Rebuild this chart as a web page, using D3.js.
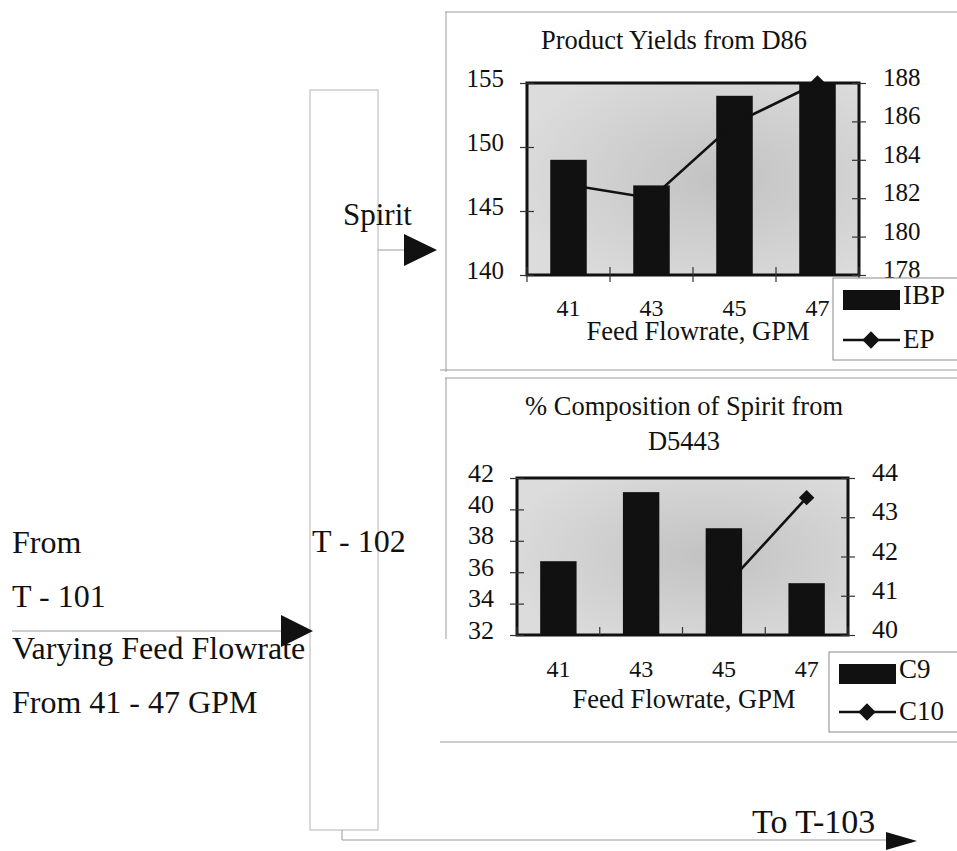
<!DOCTYPE html>
<html>
<head>
<meta charset="utf-8">
<script src="https://cdn.jsdelivr.net/npm/d3@7"></script>
<style>
  body { margin: 0; background: #fff; }
  text { font-family: "Liberation Serif", "Times New Roman", serif; fill: #111; }
</style>
</head>
<body>
<div id="chart"></div>
<script>
// feed flowrate categories (GPM)
var flowrates = ["41", "43", "45", "47"];

// product yields from D86
var ibpValues = [149, 147, 154, 155];
var epValues = [182.7, 182.0, 185.9, 188];

// % composition of spirit from D5443
var c9Values = [36.7, 41.1, 38.8, 35.3];
var c10Values = [null, null, 41.2, 43.5];

// tick labels
var ibpTicks = [140, 145, 150, 155];
var epTicks = [178, 180, 182, 184, 186, 188];
var c9Ticks = [32, 34, 36, 38, 40, 42];
var c10Ticks = [40, 41, 42, 43, 44];

var svg = d3.select("#chart")
  .append("svg")
    .attr("width", 957)
    .attr("height", 851);

// shaded plot background
var grad = svg.append("defs").append("radialGradient")
    .attr("id", "plotShade")
    .attr("cx", "58%").attr("cy", "50%").attr("r", "65%");
grad.append("stop").attr("offset", "0%").attr("stop-color", "#c2c2c2");
grad.append("stop").attr("offset", "100%").attr("stop-color", "#dcdcdc");

var grey = "#9a9a9a";

// ---- process sketch on the left ----
function hline(x1, x2, y) {
  svg.append("line").attr("x1", x1).attr("x2", x2).attr("y1", y).attr("y2", y)
    .attr("stroke", grey).attr("stroke-width", 1);
}
function vline(x, y1, y2) {
  svg.append("line").attr("x1", x).attr("x2", x).attr("y1", y1).attr("y2", y2)
    .attr("stroke", grey).attr("stroke-width", 1);
}
function arrowHead(xTip, y, len, half) {
  svg.append("path")
    .attr("d", "M" + (xTip - len) + "," + (y - half) + "L" + xTip + "," + y + "L" + (xTip - len) + "," + (y + half) + "Z")
    .attr("fill", "#111");
}
function label(txt, x, y, size) {
  svg.append("text").attr("x", x).attr("y", y).style("font-size", (size || 32) + "px").text(txt);
}

// column T-102
svg.append("rect")
  .attr("x", 310).attr("y", 90).attr("width", 68).attr("height", 740)
  .attr("fill", "none").attr("stroke", "#b4b4b4").attr("stroke-width", 1);

// panel frames
hline(445, 957, 12);
vline(446, 12, 372);
hline(440, 957, 370);
hline(445, 957, 378);
vline(446, 378, 640);
hline(440, 957, 742);

// feed in
hline(12, 285, 631);
arrowHead(313, 631, 32, 16);
// spirit out
hline(378, 406, 250);
arrowHead(437, 250, 33, 16);
// bottoms out
vline(342, 830, 840);
hline(342, 890, 840);
arrowHead(917, 841, 31, 9);

label("Spirit", 343, 225, 31);
label("From", 12, 553);
label("T - 101", 12, 607);
label("Varying Feed Flowrate", 12, 659);
label("From 41 - 47 GPM", 12, 713);
label("T - 102", 312, 552);
label("To T-103", 752, 833, 34);

// ---- combo chart: bars on left axis, line on right axis ----
function drawChart(cfg) {
  var g = svg.append("g");

  var x = d3.scaleBand()
    .domain(flowrates)
    .range([cfg.left, cfg.right]);
  var yL = d3.scaleLinear().domain(d3.extent(cfg.leftTicks)).range([cfg.bottom, cfg.top]);
  var yR = d3.scaleLinear().domain(d3.extent(cfg.rightTicks)).range([cfg.bottom, cfg.top]);

  g.append("rect")
    .attr("x", cfg.left).attr("y", cfg.top)
    .attr("width", cfg.right - cfg.left).attr("height", cfg.bottom - cfg.top)
    .attr("fill", "url(#plotShade)");

  // bars
  var bw = x.bandwidth() * 0.44;
  g.selectAll(".bar")
    .data(cfg.bars)
    .enter()
    .append("rect")
      .attr("x", function(d, i) { return x(flowrates[i]) + (x.bandwidth() - bw) / 2; })
      .attr("y", function(d) { return yL(d); })
      .attr("width", bw)
      .attr("height", function(d) { return yL(yL.domain()[0]) - yL(d); })
      .attr("fill", "#111");

  // line series
  var pts = cfg.line.map(function(d, i) { return { cat: flowrates[i], v: d }; })
    .filter(function(d) { return d.v !== null; });
  var line = d3.line()
    .x(function(d) { return x(d.cat) + x.bandwidth() / 2; })
    .y(function(d) { return yR(d.v); });
  g.append("path")
    .datum(pts)
    .attr("d", line)
    .attr("fill", "none")
    .attr("stroke", "#111")
    .attr("stroke-width", 2.6);
  var diamond = d3.symbol().type(d3.symbolSquare).size(120);
  g.selectAll(".mk")
    .data(pts)
    .enter()
    .append("path")
      .attr("d", diamond)
      .attr("transform", function(d) {
        return "translate(" + (x(d.cat) + x.bandwidth() / 2) + "," + yR(d.v) + ")rotate(45)";
      })
      .attr("fill", "#111");

  // frame
  g.append("rect")
    .attr("x", cfg.left).attr("y", cfg.top)
    .attr("width", cfg.right - cfg.left).attr("height", cfg.bottom - cfg.top)
    .attr("fill", "none").attr("stroke", "#111").attr("stroke-width", 3);

  // left axis, ticks crossing the frame
  [7, -7].forEach(function(ts, k) {
    var ax = g.append("g")
      .attr("transform", "translate(" + cfg.left + ",0)")
      .call(d3.axisLeft(yL).tickValues(cfg.leftTicks).tickSize(ts).tickPadding(16).tickFormat(d3.format("d")));
    ax.select(".domain").remove();
    ax.selectAll("line").attr("stroke", "#333").attr("stroke-width", 1.2);
    if (k) ax.selectAll("text").remove();
    else ax.selectAll("text").attr("dy", "0.12em").style("font-size", cfg.tickFont).attr("fill", "#111");
  });
  [7, -7].forEach(function(ts, k) {
    var ax = g.append("g")
      .attr("transform", "translate(" + cfg.right + ",0)")
      .call(d3.axisRight(yR).tickValues(cfg.rightTicks).tickSize(ts).tickPadding(17).tickFormat(d3.format("d")));
    ax.select(".domain").remove();
    ax.selectAll("line").attr("stroke", "#333").attr("stroke-width", 1.2);
    if (k) ax.selectAll("text").remove();
    else ax.selectAll("text").attr("dy", "0.1em").attr("text-anchor", "start").style("font-size", cfg.tickFont).attr("fill", "#111");
  });

  // category separators on the x axis
  var seps = flowrates.map(function(f) { return x(f); }).concat([cfg.right]);
  g.selectAll(".sep")
    .data(seps)
    .enter()
    .append("line")
      .attr("x1", function(d) { return d; }).attr("x2", function(d) { return d; })
      .attr("y1", cfg.bottom - 8).attr("y2", cfg.bottom + cfg.sepDown)
      .attr("stroke", "#333").attr("stroke-width", 1.2);

  if (cfg.cover) {
    svg.append("rect")
      .attr("x", cfg.cover[0]).attr("y", cfg.cover[1])
      .attr("width", cfg.cover[2]).attr("height", cfg.cover[3])
      .attr("fill", "#fff");
  }

  // category labels
  var xa = svg.append("g")
    .attr("transform", "translate(0," + cfg.bottom + ")")
    .call(d3.axisBottom(x).tickSize(0));
  xa.select(".domain").remove();
  xa.selectAll("text")
    .attr("y", cfg.catOffset).attr("dy", 0)
    .style("font-size", "24px").attr("fill", "#111");

  svg.append("text")
    .attr("x", cfg.xTitle[0]).attr("y", cfg.xTitle[1])
    .attr("text-anchor", "middle")
    .style("font-size", "26.5px")
    .text("Feed Flowrate, GPM");

  cfg.title.forEach(function(t) {
    svg.append("text")
      .attr("x", t[1]).attr("y", t[2])
      .attr("text-anchor", "middle")
      .style("font-size", "26.5px")
      .text(t[0]);
  });

  // legend
  var lg = svg.append("g").attr("transform", "translate(" + cfg.legend[0] + "," + cfg.legend[1] + ")");
  lg.append("rect")
    .attr("width", cfg.legend[2]).attr("height", cfg.legend[3])
    .attr("fill", "#fff").attr("stroke", "#8a8a8a").attr("stroke-width", 1);
  lg.append("rect")
    .attr("x", 10).attr("y", 12).attr("width", 57).attr("height", 20)
    .attr("fill", "#111");
  lg.append("text").attr("x", 70).attr("y", 26)
    .style("font-size", "27px").text(cfg.names[0]);
  lg.append("line")
    .attr("x1", 10).attr("x2", 67).attr("y1", cfg.legendLineY).attr("y2", cfg.legendLineY)
    .attr("stroke", "#111").attr("stroke-width", 2.6);
  lg.append("path")
    .attr("d", d3.symbol().type(d3.symbolSquare).size(150))
    .attr("transform", "translate(38," + cfg.legendLineY + ")rotate(45)")
    .attr("fill", "#111");
  lg.append("text").attr("x", 70).attr("y", cfg.legendLineY + 8)
    .style("font-size", "27px").text(cfg.names[1]);
}

drawChart({
  left: 527, right: 859, top: 83, bottom: 275,
  bars: ibpValues, line: epValues,
  leftTicks: ibpTicks, rightTicks: epTicks,
  tickFont: "25px",
  sepDown: 7, catOffset: 41,
  xTitle: [698, 340],
  title: [["Product Yields from D86", 674, 49]],
  legend: [833, 278, 130, 82], legendLineY: 62,
  names: ["IBP", "EP"]
});

drawChart({
  left: 517, right: 848, top: 478, bottom: 635,
  bars: c9Values, line: c10Values,
  leftTicks: c9Ticks, rightTicks: c10Ticks,
  tickFont: "26px",
  sepDown: 0, catOffset: 42,
  xTitle: [684, 708],
  title: [["% Composition of Spirit from", 684, 415], ["D5443", 684, 450]],
  cover: [438, 639, 391, 100],
  legend: [829, 652, 130, 80], legendLineY: 60,
  names: ["C9", "C10"]
});
</script>
</body>
</html>
